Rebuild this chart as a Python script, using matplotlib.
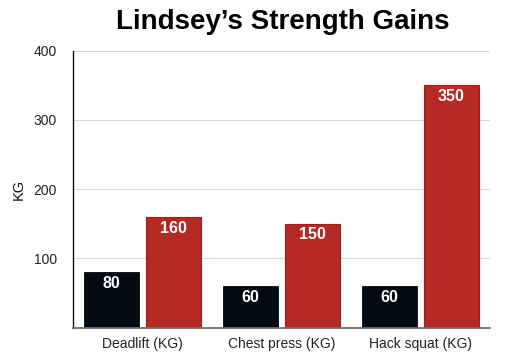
import numpy as np
import matplotlib.pyplot as plt

plt.rcParams['font.family'] = ['Liberation Sans', 'DejaVu Sans']

categories = ['Deadlift (KG)', 'Chest press (KG)', 'Hack squat (KG)']
before = [80, 60, 60]
after = [160, 150, 350]

fig = plt.figure(figsize=(5.12, 3.61), dpi=100)
ax = fig.add_axes([0.1426, 0.0922, 0.8144, 0.7674])

x = np.arange(len(categories))
w = 0.395
b1 = ax.bar(x - 0.222, before, w, color='#030a12', edgecolor='#030a12', linewidth=0.6)
b2 = ax.bar(x + 0.222, after, w, color='#b52a25', edgecolor='#a81a16', linewidth=0.8)

for bars, vals in [(b1, before), (b2, after)]:
    for r, v in zip(bars, vals):
        ax.annotate(str(v), (r.get_x() + r.get_width() / 2, r.get_height()),
                    xytext=(0, -8), textcoords='offset points',
                    ha='center', va='center', color='white',
                    fontsize=11.5, fontweight='bold')

ax.set_xlim(-0.5, 2.5)
ax.set_ylim(0, 400)
ax.set_yticks([100, 200, 300, 400])
ax.set_xticks(x)
ax.set_xticklabels(categories, fontsize=10)
ax.tick_params(axis='both', length=0, labelsize=10, colors='#222222')
ax.tick_params(axis='y', pad=11.5)
ax.tick_params(axis='x', pad=7)
ax.grid(axis='y', color='#d9d9d9', linewidth=0.8)
ax.set_axisbelow(True)
for s in ['top', 'right']:
    ax.spines[s].set_visible(False)
ax.spines['left'].set_color('#111111')
ax.spines['left'].set_linewidth(1.0)
ax.spines['bottom'].set_color('#6e6e6e')
ax.spines['bottom'].set_linewidth(1.3)

ax.set_ylabel('KG', fontsize=10.5, color='#111111')
ax.yaxis.set_label_coords(-0.113, 0.5)
fig.text(0.553, 0.938, 'Lindsey\u2019s Strength Gains', ha='center', va='center',
         fontsize=20, fontweight='bold')

fig.savefig('out.png', dpi=100)
